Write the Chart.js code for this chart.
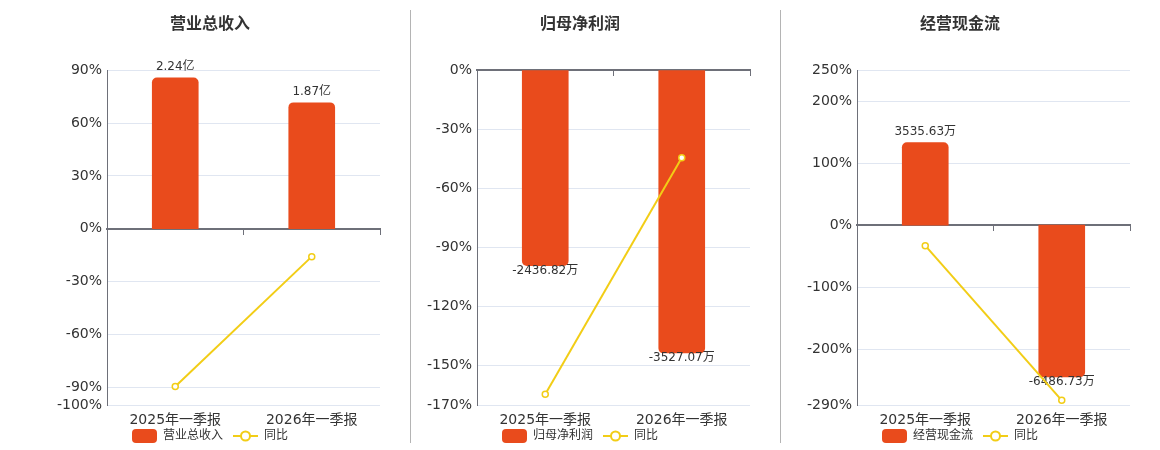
<html>
<head>
<meta charset="UTF-8" />
<title>财务概览</title>
<script src="https://cdn.jsdelivr.net/npm/chart.js"></script>
<style>
  body {
    margin: 0;
    padding: 0;
    background: #ffffff;
  }
  .panel {
    position: absolute;
    top: 0;
    width: 370px;
    height: 450px;
  }
  .sep {
    position: absolute;
    top: 10px;
    width: 1px;
    height: 433px;
    background: #b4b4b4;
  }
</style>
</head>
<body>
<div class="panel" style="left: 40px"><canvas id="c1"></canvas></div>
<div class="panel" style="left: 410px"><canvas id="c2"></canvas></div>
<div class="panel" style="left: 790px"><canvas id="c3"></canvas></div>
<div class="sep" style="left: 410px"></div>
<div class="sep" style="left: 780px"></div>

<script>
// 数据
const categories = ["2025年一季报", "2026年一季报"];

const revenue = [2.24, 1.87];            // 亿
const revenueYoy = [-89.5, -15.8];       // %
const revenueTicks = [-100, -90, -60, -30, 0, 30, 60, 90];

const netProfit = [-2436.82, -3527.07];  // 万
const netProfitYoy = [-164.6, -44.5];
const netProfitTicks = [-170, -150, -120, -90, -60, -30, 0];

const cashFlow = [3535.63, -6486.73];    // 万
const cashFlowYoy = [-33.0, -282.5];
const cashFlowTicks = [-290, -200, -100, 0, 100, 200, 250];

const BAR_COLOR = "#e94b1c";
const LINE_COLOR = "#f2cd16";
const AXIS_COLOR = "#6e7079";
const GRID_COLOR = "#e0e6f1";
const TEXT_COLOR = "#333333";
const FONT = '"DejaVu Sans", "Noto Sans CJK SC", sans-serif';

Chart.defaults.font.family = FONT;

function barIcon() {
    const c = document.createElement("canvas");
    c.width = 25;
    c.height = 14;
    const g = c.getContext("2d");
    g.fillStyle = BAR_COLOR;
    g.beginPath();
    g.roundRect(0, 0, 25, 14, 4);
    g.fill();
    return c;
}

function lineIcon() {
    const c = document.createElement("canvas");
    c.width = 25;
    c.height = 14;
    const g = c.getContext("2d");
    g.strokeStyle = LINE_COLOR;
    g.lineWidth = 2;
    g.beginPath();
    g.moveTo(0, 7);
    g.lineTo(25, 7);
    g.stroke();
    g.beginPath();
    g.arc(12.5, 7, 4.5, 0, Math.PI * 2);
    g.fillStyle = "#ffffff";
    g.fill();
    g.stroke();
    return c;
}

const legendIcons = [barIcon(), lineIcon()];

// 柱子数值标签，画在折线之前
const barLabels = {
    id: "barLabels",
    afterDatasetDraw(chart, args, opts) {
        if (args.index !== 0) return;
        const ctx = chart.ctx;
        const values = chart.data.datasets[0].data;
        ctx.save();
        ctx.font = "12px " + FONT;
        ctx.fillStyle = TEXT_COLOR;
        ctx.textAlign = "center";
        ctx.textBaseline = "middle";
        args.meta.data.forEach((bar, i) => {
            const v = values[i];
            const y = v >= 0 ? bar.y - 11 : bar.y + 5;
            ctx.fillText(v.toFixed(2) + opts.unit, bar.x, y);
        });
        ctx.restore();
    }
};

// 图例往上挪一点，贴着横轴标签
const legendNudge = {
    id: "legendNudge",
    afterLayout(chart) {
        chart.legend.top -= 7;
        chart.legend.bottom -= 7;
    }
};

function makeChart(id, title, bars, yoy, unit, ticks, barPerPct) {
    const yMin = ticks[0];
    const yMax = ticks[ticks.length - 1];

    return new Chart(document.getElementById(id), {
        type: "bar",
        data: {
            labels: categories,
            datasets: [
                {
                    type: "bar",
                    label: title,
                    data: bars,
                    yAxisID: "y1",
                    backgroundColor: BAR_COLOR,
                    barThickness: 46,
                    borderRadius: 5,
                    borderSkipped: "start",
                    order: 1,
                },
                {
                    type: "line",
                    label: "同比",
                    data: yoy,
                    yAxisID: "y",
                    borderColor: LINE_COLOR,
                    borderWidth: 2,
                    pointRadius: 3,
                    pointBorderWidth: 1.5,
                    pointBackgroundColor: "#ffffff",
                    pointBorderColor: LINE_COLOR,
                    order: 0,
                },
            ],
        },
        options: {
            responsive: true,
            maintainAspectRatio: false,
            animation: false,
            layout: { padding: { left: 0, right: 30, top: 0, bottom: -9 } },
            scales: {
                x: {
                    type: "category",
                    grid: { display: false, drawTicks: false },
                    border: { display: false },
                    ticks: {
                        color: TEXT_COLOR,
                        font: { size: 14 },
                        padding: 7,
                        maxRotation: 0,
                    },
                    afterFit(s) { s.height = 22; },
                },
                // 零轴线和刻度
                x2: {
                    type: "category",
                    position: { y: 0 },
                    offset: true,
                    grid: {
                        offset: true,
                        drawOnChartArea: false,
                        tickLength: 5,
                        color: AXIS_COLOR,
                    },
                    border: { color: AXIS_COLOR, width: 2 },
                    ticks: { display: false },
                },
                y: {
                    min: yMin,
                    max: yMax,
                    afterBuildTicks(s) {
                        s.ticks = ticks.map(v => ({ value: v }));
                    },
                    ticks: {
                        autoSkip: false,
                        color: TEXT_COLOR,
                        font: { size: 14 },
                        padding: 5,
                        callback: v => v + "%",
                    },
                    grid: {
                        drawTicks: false,
                        color: c => (c.tick && c.tick.value === 0 ? "rgba(0,0,0,0)" : GRID_COLOR),
                    },
                    border: { color: AXIS_COLOR, width: 1 },
                    afterFit(s) { s.width = 67; },
                },
                y1: {
                    display: false,
                    min: yMin * barPerPct,
                    max: yMax * barPerPct,
                },
            },
            plugins: {
                title: {
                    display: true,
                    text: title,
                    color: TEXT_COLOR,
                    font: { size: 16, weight: "bold" },
                    padding: { top: 15, bottom: 36 },
                },
                legend: {
                    position: "bottom",
                    labels: {
                        usePointStyle: true,
                        pointStyleWidth: 25,
                        padding: 10,
                        color: TEXT_COLOR,
                        font: { size: 12 },
                        generateLabels(chart) {
                            return chart.data.datasets.map((ds, i) => ({
                                text: ds.label,
                                pointStyle: legendIcons[i],
                                datasetIndex: i,
                                fontColor: TEXT_COLOR,
                                fillStyle: "rgba(0,0,0,0)",
                                strokeStyle: "rgba(0,0,0,0)",
                                lineWidth: 0,
                                hidden: false,
                            }));
                        },
                    },
                },
                tooltip: { enabled: false },
                barLabels: { unit: unit },
            },
        },
        plugins: [barLabels, legendNudge],
    });
}

makeChart("c1", "营业总收入", revenue, revenueYoy, "亿", revenueTicks, 0.02614);
makeChart("c2", "归母净利润", netProfit, netProfitYoy, "万", netProfitTicks, 24.56);
makeChart("c3", "经营现金流", cashFlow, cashFlowYoy, "万", cashFlowTicks, 26.52);
</script>
</body>
</html>
